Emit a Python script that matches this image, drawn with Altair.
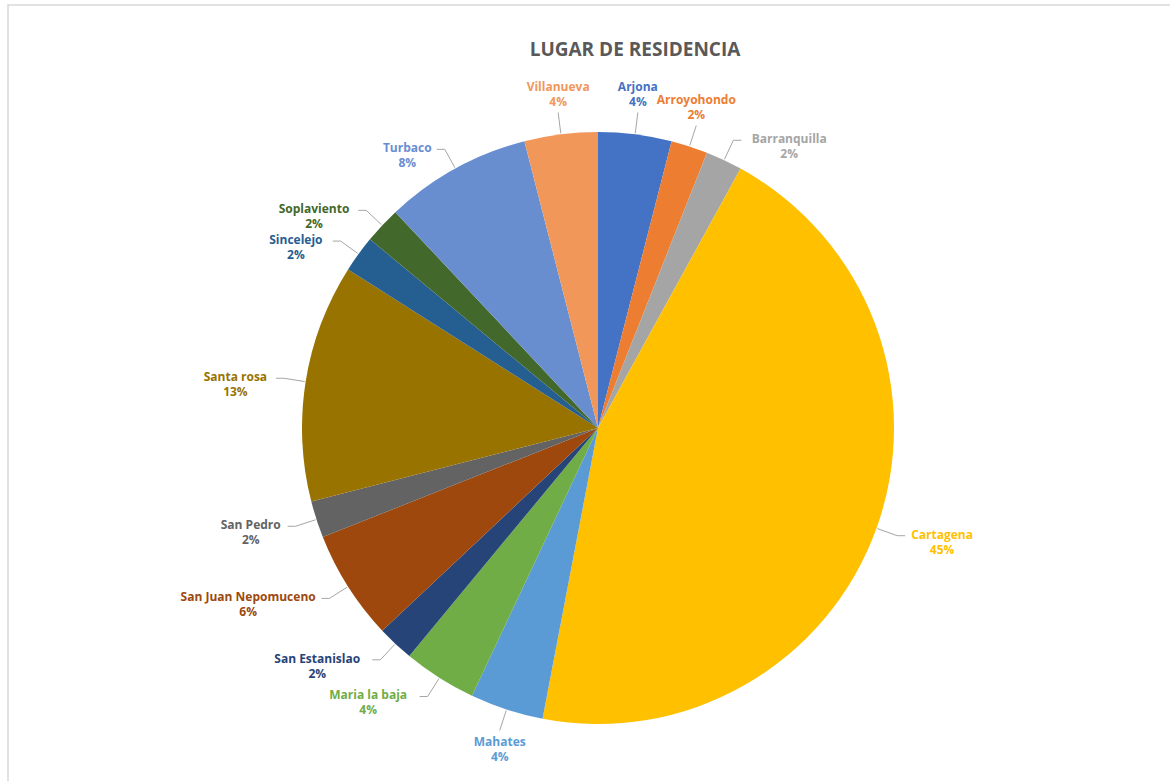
import altair as alt
import pandas as pd

# ---- data ----
names = ["Arjona", "Arroyohondo", "Barranquilla", "Cartagena", "Mahates",
         "Maria la baja", "San Estanislao", "San Juan Nepomuceno", "San Pedro",
         "Santa rosa", "Sincelejo", "Soplaviento", "Turbaco", "Villanueva"]
pcts = [4, 2, 2, 45, 4, 4, 2, 6, 2, 13, 2, 2, 8, 4]
colors = ["#4472C4", "#ED7D31", "#A5A5A5", "#FFC000", "#5B9BD5", "#70AD47",
          "#264478", "#9E480E", "#636363", "#997300", "#255E91", "#43682B",
          "#698ED0", "#F1975A"]
title_text = "LUGAR DE RESIDENCIA"

df = pd.DataFrame({"name": names, "pct": pcts, "idx": list(range(len(names)))})
df["pct_label"] = [f"{p}%" for p in pcts]

CX, CY, R = 598, 428, 296
FONT = "Open Sans"
color_scale = alt.Scale(domain=names, range=colors)

base = alt.Chart(df)

# soft shadow under the pie
shadow = alt.Chart(pd.DataFrame({"v": [1]})).mark_arc(
    radius=R + 2, color="#000000", opacity=0.10
).encode(theta=alt.Theta("v:Q"), x=alt.value(CX + 2), y=alt.value(CY + 4))

pie = base.mark_arc(radius=R).encode(
    theta=alt.Theta("pct:Q", stack=True),
    color=alt.Color("name:N", scale=color_scale, legend=None),
    order=alt.Order("idx:Q"),
    x=alt.value(CX), y=alt.value(CY),
)

geo = base.transform_window(
    cum="sum(pct)", sort=[alt.SortField("idx")], frame=[None, 0]
).transform_joinaggregate(
    total="sum(pct)"
).transform_calculate(
    mid="2*PI*(datum.cum - datum.pct/2)/datum.total"
).transform_calculate(
    s="sin(datum.mid)", c="cos(datum.mid)"
).transform_calculate(
    x1=f"{CX} + {R + 1}*datum.s", y1=f"{CY} - {R + 1}*datum.c",
    x2=f"{CX} + {R + 22}*datum.s", y2=f"{CY} - {R + 22}*datum.c",
    side="datum.s >= 0.4 ? 1 : (datum.s <= -0.4 ? -1 : 0)",
).transform_calculate(
    x3="datum.x2 + datum.side*8",
    w="length(datum.name)*7.3",
).transform_calculate(
    lx="datum.side == 0 ? datum.x2 : datum.x3 + datum.side*(4 + datum.w/2)",
    ly="datum.side == 0 ? datum.y2 - 19*(datum.c > 0 ? 1 : -1) : datum.y2 + 6",
)

line_col = "#A6A6A6"
leader = geo.mark_rule(color=line_col, strokeWidth=1).encode(
    x=alt.X("x1:Q", scale=None), y=alt.Y("y1:Q", scale=None),
    x2="x2:Q", y2="y2:Q",
)
hook = geo.transform_filter("datum.side != 0").mark_rule(
    color=line_col, strokeWidth=1
).encode(
    x=alt.X("x2:Q", scale=None), y=alt.Y("y2:Q", scale=None), x2="x3:Q",
)

name_txt = geo.mark_text(
    font=FONT, fontSize=12, fontWeight="bold", align="center", baseline="middle"
).encode(
    x=alt.X("lx:Q", scale=None), y=alt.Y("ly:Q", scale=None),
    text="name:N",
    color=alt.Color("name:N", scale=color_scale, legend=None),
    yOffset=alt.value(-7),
)
pct_txt = geo.mark_text(
    font=FONT, fontSize=12, fontWeight="bold", align="center", baseline="middle"
).encode(
    x=alt.X("lx:Q", scale=None), y=alt.Y("ly:Q", scale=None),
    text="pct_label:N",
    color=alt.Color("name:N", scale=color_scale, legend=None),
    yOffset=alt.value(8),
)

title = alt.Chart(pd.DataFrame({"t": [title_text]})).mark_text(
    font=FONT, fontSize=19, fontWeight="bold", color="#595959",
    align="center", baseline="middle"
).encode(text="t:N", x=alt.value(635), y=alt.value(50))

frame = alt.Chart(pd.DataFrame({"v": [1]})).mark_rect(
    fill="white", stroke="#D9D9D9", strokeWidth=1.5
).encode(x=alt.value(8), y=alt.value(5), x2=alt.value(1200), y2=alt.value(800))

chart = alt.layer(frame, shadow, pie, leader, hook, name_txt, pct_txt, title).properties(
    width=1170, height=781,
    autosize=alt.AutoSizeParams(type="none"),
    padding=0,
    background="white",
).configure_view(stroke=None)

chart.save("out.html", embed_options={"renderer": "svg", "actions": False})
